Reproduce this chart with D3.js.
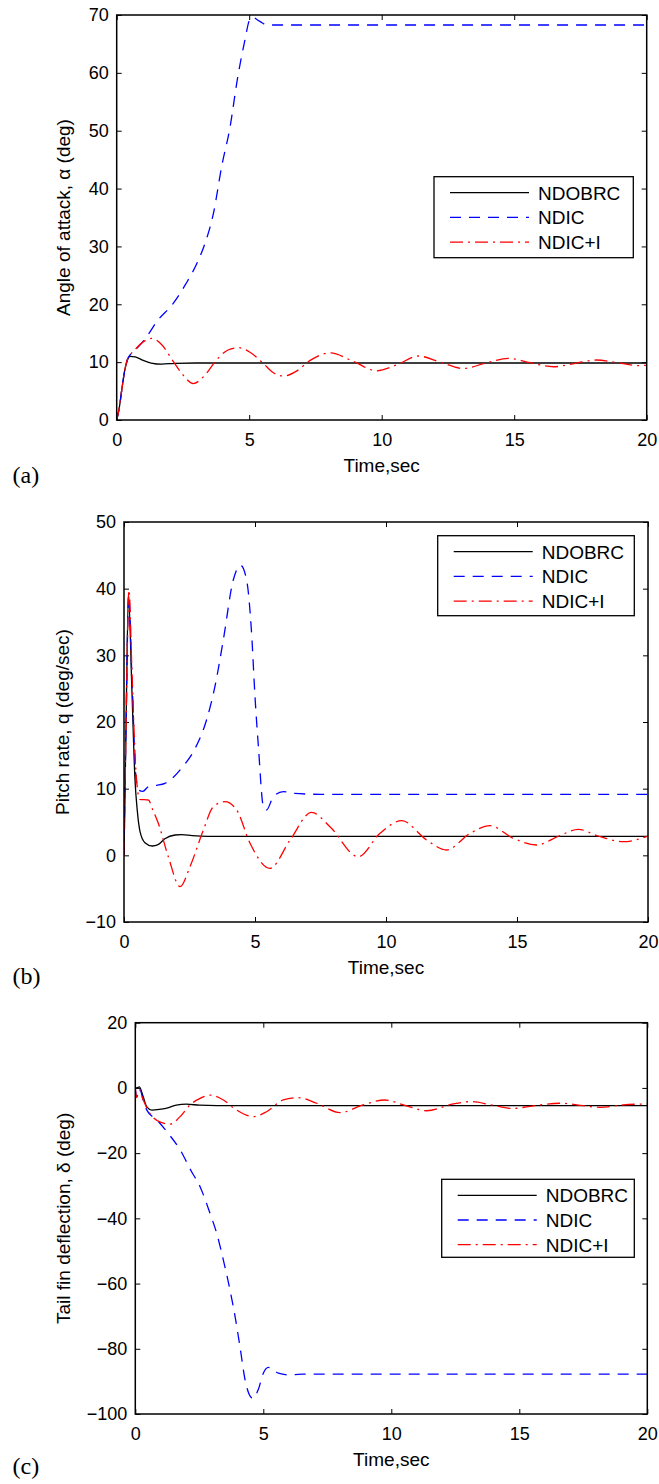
<!DOCTYPE html>
<html>
<head>
<meta charset="utf-8">
<script src="https://cdn.jsdelivr.net/npm/d3@7"></script>
<style>
body { margin: 0; background: #fff; }
svg text { font-family: "Liberation Sans", Arial, sans-serif; fill: #000; }
</style>
</head>
<body>
<svg id="chart" width="659" height="1484"></svg>
<script>
// data, [time (sec), value]
var seriesNames = ["NDOBRC", "NDIC", "NDIC+I"];
var timeTicks = [0, 5, 10, 15, 20];
var alphaTicks = [0, 10, 20, 30, 40, 50, 60, 70];
var qTicks = [-10, 0, 10, 20, 30, 40, 50];
var deltaTicks = [-100, -80, -60, -40, -20, 0, 20];

var alphaNDOBRC = [[0,0],[0.1,2.2],[0.2,5.5],[0.3,8.5],[0.4,10.3],[0.5,11.0],[0.7,10.9],[1.0,10.3],[1.3,9.85],[1.7,9.65],[2.2,9.8],[3,9.85],[20,9.85]];
var alphaNDIC = [[0,0],[0.1,2.2],[0.2,5.5],[0.3,8.5],[0.4,10.4],[0.5,11.2],[0.63,11.8],[0.9,13.1],[1.13,14.4],[1.51,17],[2.14,20.2],[2.58,23.3],[3.08,27.6],[3.33,30.5],[3.65,35.7],[3.96,43.8],[4.28,50.7],[4.55,58.8],[4.84,65.7],[5.0,69.0],[5.12,69.6],[5.4,68.9],[5.66,68.3],[6,68.27],[20,68.27]];
var alphaNDICI = [[0,0],[0.1,2.2],[0.2,5.5],[0.3,8.5],[0.4,10.4],[0.5,11.2],[0.7,12.2],[1.0,13.5],[1.32,14.1],[1.7,13],[2.14,10.1],[2.5,7.8],[2.89,6.3],[3.3,7.6],[3.77,10.4],[4.2,12.1],[4.59,12.5],[5.0,11.8],[5.53,9.8],[5.9,8.2],[6.29,7.6],[6.8,8.5],[7.3,10.3],[8.05,11.6],[8.9,10.2],[9.81,8.5],[10.6,9.6],[11.38,11.06],[12.2,10.0],[13.08,8.9],[13.9,9.8],[14.78,10.66],[15.6,9.9],[16.48,9.2],[17.3,9.8],[18.1,10.37],[18.9,9.9],[19.7,9.4],[20,9.45]];

var qNDOBRC = [[0,0],[0.08,20],[0.17,39.2],[0.3,25],[0.42,11.3],[0.5,7],[0.61,3.6],[0.8,1.9],[1.08,1.4],[1.3,1.6],[1.56,2.5],[1.95,3.05],[2.2,3.1],[2.6,2.95],[3.2,2.85],[20,2.85]];
var qNDIC = [[0,0],[0.08,20],[0.18,39],[0.3,27],[0.45,12],[0.55,9.8],[0.72,9.6],[0.93,10.3],[1.25,10.5],[1.56,10.8],[1.76,11.3],[2.2,13.1],[2.71,16],[3.15,20.3],[3.47,25.3],[3.79,32.3],[4.17,41.3],[4.45,43.5],[4.68,41.3],[4.87,33.3],[5.0,23.8],[5.13,16.3],[5.32,7.3],[5.44,6.8],[5.7,8.8],[6.08,9.55],[6.5,9.3],[7.5,9.15],[20,9.15]];
var qNDICI = [[0,0],[0.08,20],[0.19,39.8],[0.3,28],[0.45,13],[0.6,8.4],[0.93,8.3],[1.1,6.8],[1.31,4.8],[1.69,-0.2],[2.14,-4.7],[2.52,-1.7],[3.03,3.8],[3.41,7.3],[3.85,8.05],[4.3,6.8],[4.81,1.8],[5.57,-1.95],[6.34,2.3],[7.16,6.45],[7.86,4.3],[8.94,-0.2],[9.77,3.3],[10.6,5.2],[11.55,2.3],[12.31,0.8],[13.21,3.3],[13.97,4.45],[14.86,2.55],[15.75,1.55],[16.6,2.9],[17.34,3.9],[18.1,2.9],[19.06,2.05],[20,2.9]];

var deltaNDOBRC = [[0,0],[0.08,0.1],[0.16,0.3],[0.3,-2.5],[0.45,-5.8],[0.65,-6.8],[1.0,-6.5],[1.23,-6.2],[1.6,-5.3],[2.0,-5.0],[2.5,-5.3],[3.2,-5.45],[20,-5.45]];
var deltaNDIC = [[0,0],[0.05,-2.8],[0.17,-0.3],[0.3,-3.5],[0.45,-6.8],[0.84,-9.8],[1.23,-13.4],[1.75,-19],[2.2,-25.7],[2.53,-30.3],[2.92,-38.5],[3.18,-44.6],[3.44,-52.8],[3.7,-62],[3.9,-70.2],[4.09,-79.4],[4.29,-89.6],[4.45,-94],[4.58,-95.2],[4.8,-92.6],[5.0,-87.5],[5.2,-85.7],[5.59,-87.5],[5.98,-88],[6.5,-87.8],[20,-87.8]];
var deltaNDICI = [[0,0],[0.05,-3],[0.16,-0.6],[0.3,-3.5],[0.57,-7.8],[0.96,-10.4],[1.36,-11.1],[1.75,-8.8],[2.14,-5.2],[2.53,-3.2],[2.92,-2.2],[3.44,-3.7],[3.96,-6.8],[4.61,-8.8],[5.13,-7.3],[5.78,-3.7],[6.37,-3.0],[7.09,-4.7],[8.0,-7.6],[8.9,-5.2],[9.75,-3.7],[10.47,-5.2],[11.38,-7.0],[12.42,-4.9],[13.14,-4.2],[13.9,-5.2],[14.77,-6.3],[15.55,-5.5],[16.59,-4.7],[17.5,-5.45],[18.15,-5.95],[19.06,-5.2],[20,-4.9]];

var styles = [
	{color: "#000000", dash: null},
	{color: "#0000ff", dash: "11,8"},
	{color: "#ff0000", dash: "13,5,2,5"}
];

var panels = [
	{series: [alphaNDOBRC, alphaNDIC, alphaNDICI], yDomain: [0, 70], yTicks: alphaTicks,
	 yLabel: "Angle of attack, \u03b1 (deg)", letter: "(a)", letterY: 483, yLabelX: 63.5,
	 left: 116.7, right: 646.7, top: 15, bottom: 420,
	 legend: {x: 434, y: 176.7, w: 199.3, h: 81}},
	{series: [qNDOBRC, qNDIC, qNDICI], yDomain: [-10, 50], yTicks: qTicks,
	 yLabel: "Pitch rate, q (deg/sec)", letter: "(b)", letterY: 984, yLabelX: 62,
	 left: 124, right: 648, top: 522, bottom: 922,
	 legend: {x: 437.7, y: 535.7, w: 196.6, h: 80}},
	{series: [deltaNDOBRC, deltaNDIC, deltaNDICI], yDomain: [-100, 20], yTicks: deltaTicks,
	 yLabel: "Tail fin deflection, \u03b4 (deg)", letter: "(c)", letterY: 1474, yLabelX: 63,
	 left: 135.3, right: 647.3, top: 1022.7, bottom: 1414,
	 legend: {x: 441.7, y: 1179.3, w: 192.6, h: 78}}
];

var svg = d3.select("#chart");
var defs = svg.append("defs");

function fmtTick(d){
	return d < 0 ? "\u2212" + Math.abs(d) : String(d);
}

panels.forEach(function(p, pi){
	var x = d3.scaleLinear().domain([0, 20]).range([p.left, p.right]);
	var y = d3.scaleLinear().domain(p.yDomain).range([p.bottom, p.top]);
	var g = svg.append("g");

	defs.append("clipPath").attr("id", "clip" + pi)
		.append("rect")
		.attr("x", p.left).attr("y", p.top)
		.attr("width", p.right - p.left).attr("height", p.bottom - p.top);

	// inside ticks on all four sides
	var bottomAxis = g.append("g").attr("transform", "translate(0," + p.bottom + ")")
		.call(d3.axisBottom(x).tickValues(timeTicks).tickSize(-5).tickPadding(13.5).tickFormat(fmtTick));
	var leftAxis = g.append("g").attr("transform", "translate(" + p.left + ",0)")
		.call(d3.axisLeft(y).tickValues(p.yTicks).tickSize(-5).tickPadding(8).tickFormat(fmtTick));
	g.append("g").attr("transform", "translate(0," + p.top + ")")
		.call(d3.axisTop(x).tickValues(timeTicks).tickSize(-5).tickFormat(""));
	g.append("g").attr("transform", "translate(" + p.right + ",0)")
		.call(d3.axisRight(y).tickValues(p.yTicks).tickSize(-5).tickFormat(""));

	g.selectAll(".domain").remove();
	g.selectAll(".tick line").attr("stroke", "#000").attr("stroke-width", 1);
	g.selectAll(".tick text").attr("font-size", "18px").attr("font-family", null);

	var line = d3.line()
		.x(function(d){ return x(d[0]); })
		.y(function(d){ return y(d[1]); })
		.curve(d3.curveMonotoneX);

	var lines = g.append("g").attr("clip-path", "url(#clip" + pi + ")");
	p.series.forEach(function(s, si){
		lines.append("path")
			.attr("d", line(s))
			.attr("fill", "none")
			.attr("stroke", styles[si].color)
			.attr("stroke-width", 1.3)
			.attr("stroke-dasharray", styles[si].dash);
	});

	g.append("rect")
		.attr("x", p.left).attr("y", p.top)
		.attr("width", p.right - p.left).attr("height", p.bottom - p.top)
		.attr("fill", "none").attr("stroke", "#000").attr("stroke-width", 1.5);

	// legend
	var L = p.legend;
	var lg = g.append("g");
	lg.append("rect").attr("x", L.x).attr("y", L.y).attr("width", L.w).attr("height", L.h)
		.attr("fill", "#fff").attr("stroke", "#000").attr("stroke-width", 1.3);
	seriesNames.forEach(function(name, si){
		var ry = L.y + 16 + si * 24.7;
		lg.append("line")
			.attr("x1", L.x + 16).attr("x2", L.x + 95).attr("y1", ry).attr("y2", ry)
			.attr("stroke", styles[si].color).attr("stroke-width", 1.3)
			.attr("stroke-dasharray", styles[si].dash);
		lg.append("text").attr("x", L.x + 104).attr("y", ry).attr("dy", "0.36em")
			.attr("font-size", "19px").text(name);
	});

	// axis labels
	g.append("text")
		.attr("x", (p.left + p.right) / 2).attr("y", p.bottom + 51.5)
		.attr("text-anchor", "middle").attr("font-size", "19px")
		.text("Time,sec");
	g.append("text")
		.attr("transform", "translate(" + p.yLabelX + "," + ((p.top + p.bottom) / 2) + ")rotate(-90)")
		.attr("dy", "0.36em")
		.attr("text-anchor", "middle").attr("font-size", "19px")
		.text(p.yLabel);

	g.append("text")
		.attr("x", 12.5).attr("y", p.letterY)
		.attr("font-size", "24px")
		.style("font-family", "'Liberation Serif', 'Times New Roman', serif")
		.text(p.letter);
});
</script>
</body>
</html>
